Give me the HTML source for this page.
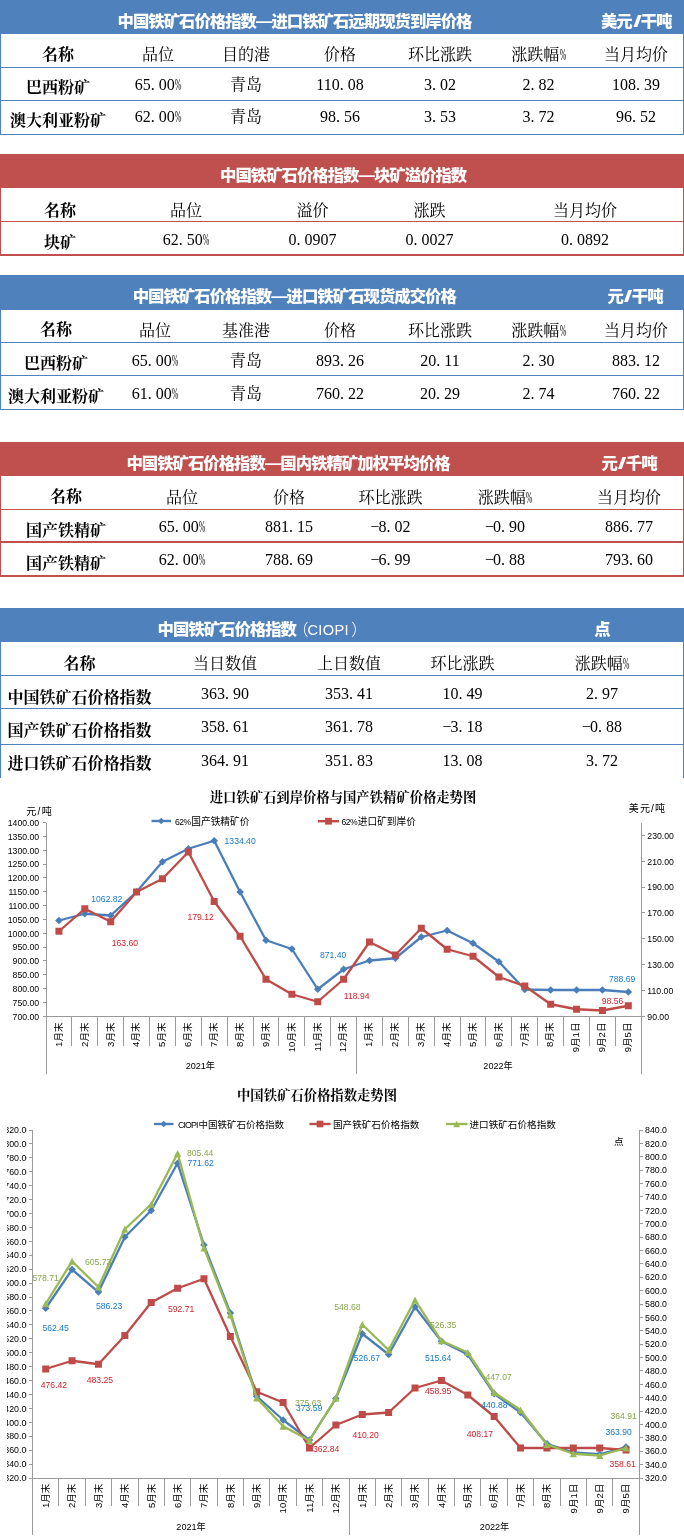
<!DOCTYPE html>
<html lang="zh-CN"><head><meta charset="utf-8"><title>中国铁矿石价格指数</title>
<style>
html,body{margin:0;padding:0;background:#fff;}
body{width:684px;height:1538px;position:relative;overflow:hidden;font-family:"Liberation Serif","Noto Serif CJK SC",serif;color:#000;}
.tb{position:absolute;left:0;width:684px;box-sizing:border-box;}
.hd{position:absolute;left:0;top:0;width:684px;color:#fff;font-family:"Liberation Sans","Noto Sans CJK SC",sans-serif;font-weight:900;font-size:16.4px;letter-spacing:-1px;line-height:20px;}
.hd .t{position:absolute;white-space:nowrap;transform:translateY(-50%);}
.hd .u{position:absolute;white-space:nowrap;transform:translate(-50%,-50%);}
.hd .u i{font-style:normal;display:inline-block;transform:scaleX(1.9);margin:0 2.7px 0 2.7px;}
.lt{font-weight:normal;font-family:"Liberation Sans","Noto Sans CJK SC",sans-serif;font-size:14.6px;letter-spacing:.3px;margin-left:-3.5px;}
.lt .fw{font-family:"Liberation Sans","Noto Sans CJK SC",sans-serif;font-size:16px;letter-spacing:-1px;font-weight:300;}
.ln{position:absolute;left:0;width:684px;height:1px;}
.vl{position:absolute;width:1px;}
.c{position:absolute;white-space:nowrap;transform:translate(-50%,-50%);font-size:16px;line-height:16px;}
.b{font-weight:bold;font-family:"Liberation Serif","Noto Serif CJK SC",serif;}
.p{letter-spacing:4px;}
.pc{display:inline-block;width:6.5px;transform:scale(.5,1.05);transform-origin:0 60%;}
.mn{display:inline-block;width:8px;}
svg{position:absolute;left:0;}
svg text{font-family:"Liberation Sans","Noto Sans CJK SC",sans-serif;}
</style></head><body>

<div class="tb" style="top:0px;height:135px;">
<div class="hd" style="height:34px;background:#4F81BD;"><span class="t" style="left:117.5px;top:20.5px">中国铁矿石价格指数—进口铁矿石远期现货到岸价格</span><span class="u" style="left:636.2px;top:20.5px">美元<i>/</i>干吨</span></div>
<div class="vl" style="left:0;top:34px;height:101px;background:#4F81BD"></div>
<div class="vl" style="left:683px;top:34px;height:101px;background:#4F81BD"></div>
<div class="ln" style="top:67px;height:1px;background:#4F81BD"></div>
<div class="ln" style="top:100px;height:1px;background:#4F81BD"></div>
<div class="ln" style="top:134px;height:1px;background:#4F81BD"></div>
<div class="c b" style="left:58px;top:54.8px">名称</div>
<div class="c" style="left:158px;top:54.5px">品位</div>
<div class="c" style="left:246px;top:54.5px">目的港</div>
<div class="c" style="left:340px;top:54.5px">价格</div>
<div class="c" style="left:440px;top:54.5px">环比涨跌</div>
<div class="c" style="left:538.5px;top:54.5px">涨跌幅<span class="pc">%</span></div>
<div class="c" style="left:636px;top:54.5px">当月均价</div>
<div class="c b" style="left:58px;top:88.0px">巴西粉矿</div>
<div class="c" style="left:158px;top:85.2px">65<span class="p">.</span>00<span class="pc">%</span></div>
<div class="c" style="left:246px;top:85.2px">青岛</div>
<div class="c" style="left:340px;top:85.2px">110<span class="p">.</span>08</div>
<div class="c" style="left:440px;top:85.2px">3<span class="p">.</span>02</div>
<div class="c" style="left:538.5px;top:85.2px">2<span class="p">.</span>82</div>
<div class="c" style="left:636px;top:85.2px">108<span class="p">.</span>39</div>
<div class="c b" style="left:58px;top:121.2px">澳大利亚粉矿</div>
<div class="c" style="left:158px;top:117.3px">62<span class="p">.</span>00<span class="pc">%</span></div>
<div class="c" style="left:246px;top:117.3px">青岛</div>
<div class="c" style="left:340px;top:117.3px">98<span class="p">.</span>56</div>
<div class="c" style="left:440px;top:117.3px">3<span class="p">.</span>53</div>
<div class="c" style="left:538.5px;top:117.3px">3<span class="p">.</span>72</div>
<div class="c" style="left:636px;top:117.3px">96<span class="p">.</span>52</div>
</div>
<div class="tb" style="top:154px;height:102px;">
<div class="hd" style="height:34px;background:#C0504D;"><span class="t" style="left:220px;top:20.900000000000006px">中国铁矿石价格指数—块矿溢价指数</span><span class="u" style="left:636px;top:20.900000000000006px"></span></div>
<div class="vl" style="left:0;top:34px;height:68px;background:#C0504D"></div>
<div class="vl" style="left:683px;top:34px;height:68px;background:#C0504D"></div>
<div class="ln" style="top:67px;height:1px;background:#C0504D"></div>
<div class="ln" style="top:100px;height:2px;background:#C0504D"></div>
<div class="c b" style="left:60px;top:56.8px">名称</div>
<div class="c" style="left:186px;top:56.7px">品位</div>
<div class="c" style="left:312.5px;top:56.7px">溢价</div>
<div class="c" style="left:429.5px;top:56.7px">涨跌</div>
<div class="c" style="left:585px;top:56.7px">当月均价</div>
<div class="c b" style="left:60px;top:88.8px">块矿</div>
<div class="c" style="left:186px;top:85.9px">62<span class="p">.</span>50<span class="pc">%</span></div>
<div class="c" style="left:312.5px;top:85.9px">0<span class="p">.</span>0907</div>
<div class="c" style="left:429.5px;top:85.9px">0<span class="p">.</span>0027</div>
<div class="c" style="left:585px;top:85.9px">0<span class="p">.</span>0892</div>
</div>
<div class="tb" style="top:274.5px;height:135.5px;">
<div class="hd" style="height:35.5px;background:#4F81BD;"><span class="t" style="left:132.7px;top:21.399999999999977px">中国铁矿石价格指数—进口铁矿石现货成交价格</span><span class="u" style="left:635px;top:21.399999999999977px">元<i>/</i>干吨</span></div>
<div class="vl" style="left:0;top:35.5px;height:100.0px;background:#4F81BD"></div>
<div class="vl" style="left:683px;top:35.5px;height:100.0px;background:#4F81BD"></div>
<div class="ln" style="top:67.5px;height:1px;background:#4F81BD"></div>
<div class="ln" style="top:100.0px;height:1px;background:#4F81BD"></div>
<div class="ln" style="top:134.5px;height:1px;background:#4F81BD"></div>
<div class="c b" style="left:56px;top:55.5px">名称</div>
<div class="c" style="left:155px;top:56.2px">品位</div>
<div class="c" style="left:246px;top:56.2px">基准港</div>
<div class="c" style="left:340px;top:56.2px">价格</div>
<div class="c" style="left:440px;top:56.2px">环比涨跌</div>
<div class="c" style="left:538.5px;top:56.2px">涨跌幅<span class="pc">%</span></div>
<div class="c" style="left:636px;top:56.2px">当月均价</div>
<div class="c b" style="left:56px;top:89.4px">巴西粉矿</div>
<div class="c" style="left:155px;top:86.5px">65<span class="p">.</span>00<span class="pc">%</span></div>
<div class="c" style="left:246px;top:86.5px">青岛</div>
<div class="c" style="left:340px;top:86.5px">893<span class="p">.</span>26</div>
<div class="c" style="left:440px;top:86.5px">20<span class="p">.</span>11</div>
<div class="c" style="left:538.5px;top:86.5px">2<span class="p">.</span>30</div>
<div class="c" style="left:636px;top:86.5px">883<span class="p">.</span>12</div>
<div class="c b" style="left:56px;top:122.3px">澳大利亚粉矿</div>
<div class="c" style="left:155px;top:119.2px">61<span class="p">.</span>00<span class="pc">%</span></div>
<div class="c" style="left:246px;top:119.2px">青岛</div>
<div class="c" style="left:340px;top:119.2px">760<span class="p">.</span>22</div>
<div class="c" style="left:440px;top:119.2px">20<span class="p">.</span>29</div>
<div class="c" style="left:538.5px;top:119.2px">2<span class="p">.</span>74</div>
<div class="c" style="left:636px;top:119.2px">760<span class="p">.</span>22</div>
</div>
<div class="tb" style="top:442.4px;height:134.6px;">
<div class="hd" style="height:34px;background:#C0504D;"><span class="t" style="left:126.4px;top:21.100000000000023px">中国铁矿石价格指数—国内铁精矿加权平均价格</span><span class="u" style="left:629px;top:21.100000000000023px">元<i>/</i>千吨</span></div>
<div class="vl" style="left:0;top:34px;height:100.6px;background:#C0504D"></div>
<div class="vl" style="left:683px;top:34px;height:100.6px;background:#C0504D"></div>
<div class="ln" style="top:66.60000000000002px;height:1px;background:#C0504D"></div>
<div class="ln" style="top:98.60000000000002px;height:2px;background:#C0504D"></div>
<div class="ln" style="top:132.60000000000002px;height:2px;background:#C0504D"></div>
<div class="c b" style="left:66px;top:54.8px">名称</div>
<div class="c" style="left:182px;top:55.3px">品位</div>
<div class="c" style="left:289px;top:55.3px">价格</div>
<div class="c" style="left:390.5px;top:55.3px">环比涨跌</div>
<div class="c" style="left:505px;top:55.3px">涨跌幅<span class="pc">%</span></div>
<div class="c" style="left:629px;top:55.3px">当月均价</div>
<div class="c b" style="left:66px;top:88.7px">国产铁精矿</div>
<div class="c" style="left:182px;top:84.7px">65<span class="p">.</span>00<span class="pc">%</span></div>
<div class="c" style="left:289px;top:84.7px">881<span class="p">.</span>15</div>
<div class="c" style="left:390.5px;top:84.7px"><span class="mn">−</span>8<span class="p">.</span>02</div>
<div class="c" style="left:505px;top:84.7px"><span class="mn">−</span>0<span class="p">.</span>90</div>
<div class="c" style="left:629px;top:84.7px">886<span class="p">.</span>77</div>
<div class="c b" style="left:66px;top:121.6px">国产铁精矿</div>
<div class="c" style="left:182px;top:117.6px">62<span class="p">.</span>00<span class="pc">%</span></div>
<div class="c" style="left:289px;top:117.6px">788<span class="p">.</span>69</div>
<div class="c" style="left:390.5px;top:117.6px"><span class="mn">−</span>6<span class="p">.</span>99</div>
<div class="c" style="left:505px;top:117.6px"><span class="mn">−</span>0<span class="p">.</span>88</div>
<div class="c" style="left:629px;top:117.6px">793<span class="p">.</span>60</div>
</div>
<div class="tb" style="top:608.2px;height:172px;">
<div class="hd" style="height:34.2px;background:#4F81BD;"><span class="t" style="left:157.5px;top:20.59999999999991px">中国铁矿石价格指数<span class="lt"><span class="fw">（</span>CIOPI<span class="fw" style="margin-left:2.5px">）</span></span></span><span class="u" style="left:602px;top:20.59999999999991px">点</span></div>
<div class="vl" style="left:0;top:34.2px;height:137.8px;background:#4F81BD"></div>
<div class="vl" style="left:683px;top:34.2px;height:137.8px;background:#4F81BD"></div>
<div class="ln" style="top:66.79999999999995px;height:1px;background:#4F81BD"></div>
<div class="ln" style="top:100.29999999999995px;height:1px;background:#4F81BD"></div>
<div class="ln" style="top:135.79999999999995px;height:1px;background:#4F81BD"></div>
<div class="c b" style="left:79.5px;top:56.1px">名称</div>
<div class="c" style="left:225px;top:55.5px">当日数值</div>
<div class="c" style="left:349px;top:55.5px">上日数值</div>
<div class="c" style="left:462.5px;top:55.5px">环比涨跌</div>
<div class="c" style="left:602px;top:55.5px">涨跌幅<span class="pc">%</span></div>
<div class="c b" style="left:79.5px;top:89.4px">中国铁矿石价格指数</div>
<div class="c" style="left:225px;top:85.6px">363<span class="p">.</span>90</div>
<div class="c" style="left:349px;top:85.6px">353<span class="p">.</span>41</div>
<div class="c" style="left:462.5px;top:85.6px">10<span class="p">.</span>49</div>
<div class="c" style="left:602px;top:85.6px">2<span class="p">.</span>97</div>
<div class="c b" style="left:79.5px;top:122.8px">国产铁矿石价格指数</div>
<div class="c" style="left:225px;top:119.3px">358<span class="p">.</span>61</div>
<div class="c" style="left:349px;top:119.3px">361<span class="p">.</span>78</div>
<div class="c" style="left:462.5px;top:119.3px"><span class="mn">−</span>3<span class="p">.</span>18</div>
<div class="c" style="left:602px;top:119.3px"><span class="mn">−</span>0<span class="p">.</span>88</div>
<div class="c b" style="left:79.5px;top:156.1px">进口铁矿石价格指数</div>
<div class="c" style="left:225px;top:153.3px">364<span class="p">.</span>91</div>
<div class="c" style="left:349px;top:153.3px">351<span class="p">.</span>83</div>
<div class="c" style="left:462.5px;top:153.3px">13<span class="p">.</span>08</div>
<div class="c" style="left:602px;top:153.3px">3<span class="p">.</span>72</div>
</div>
<svg style="top:778px" width="684" height="304" viewBox="0 778 684 304"><rect x="0" y="778" width="684" height="304" fill="#fff"/>
<text x="343" y="801.5" font-size="13.33" font-weight="bold" text-anchor="middle" style="font-family:'Liberation Serif','Noto Serif CJK SC',serif">进口铁矿石到岸价格与国产铁精矿价格走势图</text>
<line x1="151.5" y1="821" x2="171" y2="821" stroke="#4A7EBB" stroke-width="2.4"/><path d="M161.20 817.80L164.40 821.00L161.20 824.20L158.00 821.00Z" fill="#4A7EBB"/>
<text x="175" y="824.7" font-size="9.7" fill="#000" text-anchor="start" ><tspan font-size="8.6" letter-spacing="-0.5">62%</tspan><tspan dx="0.6">国产铁精矿价</tspan></text>
<line x1="318" y1="821.2" x2="339" y2="821.2" stroke="#BE4B48" stroke-width="2.4"/><rect x="325.10" y="817.80" width="6.80" height="6.80" fill="#BE4B48"/>
<text x="341.5" y="824.7" font-size="9.7" fill="#000" text-anchor="start" ><tspan font-size="8.6" letter-spacing="-0.5">62%</tspan><tspan dx="0.6">进口矿到岸价</tspan></text>
<text x="26.3" y="815.2" font-size="10" fill="#000" text-anchor="start" letter-spacing="1.3">元/吨</text>
<text x="628.8" y="811.8" font-size="10" fill="#000" text-anchor="start" letter-spacing="1.1">美元/吨</text>
<g stroke="#9A9A9A" stroke-width="1" fill="none" shape-rendering="crispEdges">
<line x1="46.0" y1="822.5" x2="46.0" y2="1074"/>
<line x1="641.25" y1="822.5" x2="641.25" y2="1074"/>
<line x1="46.0" y1="1016.25" x2="641.25" y2="1016.25"/>
<line x1="42.5" y1="822.50" x2="46.0" y2="822.50"/>
<line x1="42.5" y1="836.34" x2="46.0" y2="836.34"/>
<line x1="42.5" y1="850.18" x2="46.0" y2="850.18"/>
<line x1="42.5" y1="864.02" x2="46.0" y2="864.02"/>
<line x1="42.5" y1="877.86" x2="46.0" y2="877.86"/>
<line x1="42.5" y1="891.70" x2="46.0" y2="891.70"/>
<line x1="42.5" y1="905.54" x2="46.0" y2="905.54"/>
<line x1="42.5" y1="919.38" x2="46.0" y2="919.38"/>
<line x1="42.5" y1="933.21" x2="46.0" y2="933.21"/>
<line x1="42.5" y1="947.05" x2="46.0" y2="947.05"/>
<line x1="42.5" y1="960.89" x2="46.0" y2="960.89"/>
<line x1="42.5" y1="974.73" x2="46.0" y2="974.73"/>
<line x1="42.5" y1="988.57" x2="46.0" y2="988.57"/>
<line x1="42.5" y1="1002.41" x2="46.0" y2="1002.41"/>
<line x1="42.5" y1="1016.25" x2="46.0" y2="1016.25"/>
<line x1="641.25" y1="1016.25" x2="644.75" y2="1016.25"/>
<line x1="641.25" y1="990.42" x2="644.75" y2="990.42"/>
<line x1="641.25" y1="964.58" x2="644.75" y2="964.58"/>
<line x1="641.25" y1="938.75" x2="644.75" y2="938.75"/>
<line x1="641.25" y1="912.92" x2="644.75" y2="912.92"/>
<line x1="641.25" y1="887.08" x2="644.75" y2="887.08"/>
<line x1="641.25" y1="861.25" x2="644.75" y2="861.25"/>
<line x1="641.25" y1="835.42" x2="644.75" y2="835.42"/>
<line x1="71.88" y1="1016.25" x2="71.88" y2="1046"/>
<line x1="97.76" y1="1016.25" x2="97.76" y2="1046"/>
<line x1="123.64" y1="1016.25" x2="123.64" y2="1046"/>
<line x1="149.52" y1="1016.25" x2="149.52" y2="1046"/>
<line x1="175.40" y1="1016.25" x2="175.40" y2="1046"/>
<line x1="201.28" y1="1016.25" x2="201.28" y2="1046"/>
<line x1="227.16" y1="1016.25" x2="227.16" y2="1046"/>
<line x1="253.04" y1="1016.25" x2="253.04" y2="1046"/>
<line x1="278.92" y1="1016.25" x2="278.92" y2="1046"/>
<line x1="304.80" y1="1016.25" x2="304.80" y2="1046"/>
<line x1="330.68" y1="1016.25" x2="330.68" y2="1046"/>
<line x1="356.57" y1="1016.25" x2="356.57" y2="1074"/>
<line x1="382.45" y1="1016.25" x2="382.45" y2="1046"/>
<line x1="408.33" y1="1016.25" x2="408.33" y2="1046"/>
<line x1="434.21" y1="1016.25" x2="434.21" y2="1046"/>
<line x1="460.09" y1="1016.25" x2="460.09" y2="1046"/>
<line x1="485.97" y1="1016.25" x2="485.97" y2="1046"/>
<line x1="511.85" y1="1016.25" x2="511.85" y2="1046"/>
<line x1="537.73" y1="1016.25" x2="537.73" y2="1046"/>
<line x1="563.61" y1="1016.25" x2="563.61" y2="1046"/>
<line x1="589.49" y1="1016.25" x2="589.49" y2="1046"/>
<line x1="615.37" y1="1016.25" x2="615.37" y2="1046"/>
</g>
<text x="39.2" y="825.9" font-size="8.7" fill="#000" text-anchor="end" >1400.00</text>
<text x="39.2" y="839.74" font-size="8.7" fill="#000" text-anchor="end" >1350.00</text>
<text x="39.2" y="853.58" font-size="8.7" fill="#000" text-anchor="end" >1300.00</text>
<text x="39.2" y="867.42" font-size="8.7" fill="#000" text-anchor="end" >1250.00</text>
<text x="39.2" y="881.26" font-size="8.7" fill="#000" text-anchor="end" >1200.00</text>
<text x="39.2" y="895.1" font-size="8.7" fill="#000" text-anchor="end" >1150.00</text>
<text x="39.2" y="908.94" font-size="8.7" fill="#000" text-anchor="end" >1100.00</text>
<text x="39.2" y="922.77" font-size="8.7" fill="#000" text-anchor="end" >1050.00</text>
<text x="39.2" y="936.61" font-size="8.7" fill="#000" text-anchor="end" >1000.00</text>
<text x="39.2" y="950.45" font-size="8.7" fill="#000" text-anchor="end" >950.00</text>
<text x="39.2" y="964.29" font-size="8.7" fill="#000" text-anchor="end" >900.00</text>
<text x="39.2" y="978.13" font-size="8.7" fill="#000" text-anchor="end" >850.00</text>
<text x="39.2" y="991.97" font-size="8.7" fill="#000" text-anchor="end" >800.00</text>
<text x="39.2" y="1005.81" font-size="8.7" fill="#000" text-anchor="end" >750.00</text>
<text x="39.2" y="1019.65" font-size="8.7" fill="#000" text-anchor="end" >700.00</text>
<text x="647.3" y="1019.65" font-size="8.7" fill="#000" text-anchor="start" >90.00</text>
<text x="647.3" y="993.82" font-size="8.7" fill="#000" text-anchor="start" >110.00</text>
<text x="647.3" y="967.98" font-size="8.7" fill="#000" text-anchor="start" >130.00</text>
<text x="647.3" y="942.15" font-size="8.7" fill="#000" text-anchor="start" >150.00</text>
<text x="647.3" y="916.32" font-size="8.7" fill="#000" text-anchor="start" >170.00</text>
<text x="647.3" y="890.48" font-size="8.7" fill="#000" text-anchor="start" >190.00</text>
<text x="647.3" y="864.65" font-size="8.7" fill="#000" text-anchor="start" >210.00</text>
<text x="647.3" y="838.82" font-size="8.7" fill="#000" text-anchor="start" >230.00</text>
<text transform="translate(61.74,1022.6) rotate(-90)" font-size="9.5" text-anchor="end">1月末</text>
<text transform="translate(87.62,1022.6) rotate(-90)" font-size="9.5" text-anchor="end">2月末</text>
<text transform="translate(113.50,1022.6) rotate(-90)" font-size="9.5" text-anchor="end">3月末</text>
<text transform="translate(139.38,1022.6) rotate(-90)" font-size="9.5" text-anchor="end">4月末</text>
<text transform="translate(165.26,1022.6) rotate(-90)" font-size="9.5" text-anchor="end">5月末</text>
<text transform="translate(191.14,1022.6) rotate(-90)" font-size="9.5" text-anchor="end">6月末</text>
<text transform="translate(217.02,1022.6) rotate(-90)" font-size="9.5" text-anchor="end">7月末</text>
<text transform="translate(242.90,1022.6) rotate(-90)" font-size="9.5" text-anchor="end">8月末</text>
<text transform="translate(268.78,1022.6) rotate(-90)" font-size="9.5" text-anchor="end">9月末</text>
<text transform="translate(294.66,1022.6) rotate(-90)" font-size="9.5" text-anchor="end">10月末</text>
<text transform="translate(320.54,1022.6) rotate(-90)" font-size="9.5" text-anchor="end">11月末</text>
<text transform="translate(346.43,1022.6) rotate(-90)" font-size="9.5" text-anchor="end">12月末</text>
<text transform="translate(372.31,1022.6) rotate(-90)" font-size="9.5" text-anchor="end">1月末</text>
<text transform="translate(398.19,1022.6) rotate(-90)" font-size="9.5" text-anchor="end">2月末</text>
<text transform="translate(424.07,1022.6) rotate(-90)" font-size="9.5" text-anchor="end">3月末</text>
<text transform="translate(449.95,1022.6) rotate(-90)" font-size="9.5" text-anchor="end">4月末</text>
<text transform="translate(475.83,1022.6) rotate(-90)" font-size="9.5" text-anchor="end">5月末</text>
<text transform="translate(501.71,1022.6) rotate(-90)" font-size="9.5" text-anchor="end">6月末</text>
<text transform="translate(527.59,1022.6) rotate(-90)" font-size="9.5" text-anchor="end">7月末</text>
<text transform="translate(553.47,1022.6) rotate(-90)" font-size="9.5" text-anchor="end">8月末</text>
<text transform="translate(579.35,1022.6) rotate(-90)" font-size="9.5" text-anchor="end">9月1日</text>
<text transform="translate(605.23,1022.6) rotate(-90)" font-size="9.5" text-anchor="end">9月2日</text>
<text transform="translate(631.11,1022.6) rotate(-90)" font-size="9.5" text-anchor="end">9月5日</text>
<text x="200.3" y="1068.6" font-size="9.1" fill="#000" text-anchor="middle" >2021年</text>
<text x="498" y="1068.6" font-size="9.1" fill="#000" text-anchor="middle" >2022年</text>
<polyline points="58.94,920.50 84.82,913.75 110.70,915.50 136.58,891.75 162.46,861.75 188.34,848.75 214.22,840.75 240.10,892.00 265.98,940.25 291.86,949.00 317.74,989.25 343.62,969.25 369.51,960.50 395.39,958.25 421.27,937.00 447.15,930.50 473.03,943.25 498.91,961.75 524.79,989.50 550.67,990.00 576.55,990.00 602.43,990.00 628.31,992.00" fill="none" stroke="#4A7EBB" stroke-width="2.3" stroke-linejoin="round" stroke-linecap="round"/><path d="M58.94 916.70L62.74 920.50L58.94 924.30L55.14 920.50Z" fill="#4A7EBB"/><path d="M84.82 909.95L88.62 913.75L84.82 917.55L81.02 913.75Z" fill="#4A7EBB"/><path d="M110.70 911.70L114.50 915.50L110.70 919.30L106.90 915.50Z" fill="#4A7EBB"/><path d="M136.58 887.95L140.38 891.75L136.58 895.55L132.78 891.75Z" fill="#4A7EBB"/><path d="M162.46 857.95L166.26 861.75L162.46 865.55L158.66 861.75Z" fill="#4A7EBB"/><path d="M188.34 844.95L192.14 848.75L188.34 852.55L184.54 848.75Z" fill="#4A7EBB"/><path d="M214.22 836.95L218.02 840.75L214.22 844.55L210.42 840.75Z" fill="#4A7EBB"/><path d="M240.10 888.20L243.90 892.00L240.10 895.80L236.30 892.00Z" fill="#4A7EBB"/><path d="M265.98 936.45L269.78 940.25L265.98 944.05L262.18 940.25Z" fill="#4A7EBB"/><path d="M291.86 945.20L295.66 949.00L291.86 952.80L288.06 949.00Z" fill="#4A7EBB"/><path d="M317.74 985.45L321.54 989.25L317.74 993.05L313.94 989.25Z" fill="#4A7EBB"/><path d="M343.62 965.45L347.43 969.25L343.62 973.05L339.82 969.25Z" fill="#4A7EBB"/><path d="M369.51 956.70L373.31 960.50L369.51 964.30L365.71 960.50Z" fill="#4A7EBB"/><path d="M395.39 954.45L399.19 958.25L395.39 962.05L391.59 958.25Z" fill="#4A7EBB"/><path d="M421.27 933.20L425.07 937.00L421.27 940.80L417.47 937.00Z" fill="#4A7EBB"/><path d="M447.15 926.70L450.95 930.50L447.15 934.30L443.35 930.50Z" fill="#4A7EBB"/><path d="M473.03 939.45L476.83 943.25L473.03 947.05L469.23 943.25Z" fill="#4A7EBB"/><path d="M498.91 957.95L502.71 961.75L498.91 965.55L495.11 961.75Z" fill="#4A7EBB"/><path d="M524.79 985.70L528.59 989.50L524.79 993.30L520.99 989.50Z" fill="#4A7EBB"/><path d="M550.67 986.20L554.47 990.00L550.67 993.80L546.87 990.00Z" fill="#4A7EBB"/><path d="M576.55 986.20L580.35 990.00L576.55 993.80L572.75 990.00Z" fill="#4A7EBB"/><path d="M602.43 986.20L606.23 990.00L602.43 993.80L598.63 990.00Z" fill="#4A7EBB"/><path d="M628.31 988.20L632.11 992.00L628.31 995.80L624.51 992.00Z" fill="#4A7EBB"/>
<polyline points="58.94,931.25 84.82,908.75 110.70,921.75 136.58,892.00 162.46,878.75 188.34,852.00 214.22,901.50 240.10,936.25 265.98,979.25 291.86,994.25 317.74,1001.75 343.62,979.25 369.51,942.00 395.39,955.00 421.27,928.25 447.15,949.25 473.03,956.25 498.91,977.00 524.79,986.00 550.67,1004.25 576.55,1009.25 602.43,1010.50 628.31,1005.75" fill="none" stroke="#BE4B48" stroke-width="2.3" stroke-linejoin="round" stroke-linecap="round"/><rect x="55.44" y="927.75" width="7.00" height="7.00" fill="#BE4B48"/><rect x="81.32" y="905.25" width="7.00" height="7.00" fill="#BE4B48"/><rect x="107.20" y="918.25" width="7.00" height="7.00" fill="#BE4B48"/><rect x="133.08" y="888.50" width="7.00" height="7.00" fill="#BE4B48"/><rect x="158.96" y="875.25" width="7.00" height="7.00" fill="#BE4B48"/><rect x="184.84" y="848.50" width="7.00" height="7.00" fill="#BE4B48"/><rect x="210.72" y="898.00" width="7.00" height="7.00" fill="#BE4B48"/><rect x="236.60" y="932.75" width="7.00" height="7.00" fill="#BE4B48"/><rect x="262.48" y="975.75" width="7.00" height="7.00" fill="#BE4B48"/><rect x="288.36" y="990.75" width="7.00" height="7.00" fill="#BE4B48"/><rect x="314.24" y="998.25" width="7.00" height="7.00" fill="#BE4B48"/><rect x="340.12" y="975.75" width="7.00" height="7.00" fill="#BE4B48"/><rect x="366.01" y="938.50" width="7.00" height="7.00" fill="#BE4B48"/><rect x="391.89" y="951.50" width="7.00" height="7.00" fill="#BE4B48"/><rect x="417.77" y="924.75" width="7.00" height="7.00" fill="#BE4B48"/><rect x="443.65" y="945.75" width="7.00" height="7.00" fill="#BE4B48"/><rect x="469.53" y="952.75" width="7.00" height="7.00" fill="#BE4B48"/><rect x="495.41" y="973.50" width="7.00" height="7.00" fill="#BE4B48"/><rect x="521.29" y="982.50" width="7.00" height="7.00" fill="#BE4B48"/><rect x="547.17" y="1000.75" width="7.00" height="7.00" fill="#BE4B48"/><rect x="573.05" y="1005.75" width="7.00" height="7.00" fill="#BE4B48"/><rect x="598.93" y="1007.00" width="7.00" height="7.00" fill="#BE4B48"/><rect x="624.81" y="1002.25" width="7.00" height="7.00" fill="#BE4B48"/>
<text x="91.3" y="902.3" font-size="8.6" fill="#1878CC" text-anchor="start" >1062.82</text>
<text x="224.6" y="843.6" font-size="8.6" fill="#1878CC" text-anchor="start" >1334.40</text>
<text x="320" y="958" font-size="8.6" fill="#1878CC" text-anchor="start" >871.40</text>
<text x="609" y="981.8" font-size="8.6" fill="#1878CC" text-anchor="start" >788.69</text>
<text x="111.8" y="945.6" font-size="8.6" fill="#D2222E" text-anchor="start" >163.60</text>
<text x="187.5" y="920" font-size="8.6" fill="#D2222E" text-anchor="start" >179.12</text>
<text x="343.8" y="998.8" font-size="8.6" fill="#D2222E" text-anchor="start" >118.94</text>
<text x="601.8" y="1003.6" font-size="8.6" fill="#D2222E" text-anchor="start" >98.56</text>
</svg>
<svg style="top:1082px" width="684" height="456" viewBox="0 1082 684 456"><rect x="0" y="1082" width="684" height="456" fill="#fff"/>
<defs><clipPath id="cl"><rect x="7" y="1120" width="19.6" height="370"/></clipPath><clipPath id="cr"><rect x="640" y="1120" width="27" height="370"/></clipPath></defs>
<text x="317" y="1099.5" font-size="13.33" font-weight="bold" text-anchor="middle" style="font-family:'Liberation Serif','Noto Serif CJK SC',serif">中国铁矿石价格指数走势图</text>
<line x1="154" y1="1124" x2="173.5" y2="1124" stroke="#4A7EBB" stroke-width="2.4"/><path d="M163.70 1120.80L166.90 1124.00L163.70 1127.20L160.50 1124.00Z" fill="#4A7EBB"/>
<text x="178" y="1127.5" font-size="9.5" fill="#000" text-anchor="start" ><tspan font-size="8.8" letter-spacing="-0.9">CIOPI</tspan><tspan dx="1">中国铁矿石价格指数</tspan></text>
<line x1="309.5" y1="1124" x2="330.5" y2="1124" stroke="#BE4B48" stroke-width="2.4"/><rect x="316.70" y="1120.70" width="6.60" height="6.60" fill="#BE4B48"/>
<text x="333" y="1127.5" font-size="9.6" fill="#000" text-anchor="start" >国产铁矿石价格指数</text>
<line x1="446" y1="1124" x2="467.5" y2="1124" stroke="#98B954" stroke-width="2.4"/><path d="M456.70 1120.70L460.00 1127.30L453.40 1127.30Z" fill="#98B954"/>
<text x="469.5" y="1127.5" font-size="9.6" fill="#000" text-anchor="start" >进口铁矿石价格指数</text>
<text x="614" y="1144.5" font-size="9.6" fill="#000" text-anchor="start" >点</text>
<g stroke="#9A9A9A" stroke-width="1" fill="none" shape-rendering="crispEdges">
<line x1="32.5" y1="1130.0" x2="32.5" y2="1535"/>
<line x1="639.25" y1="1130.0" x2="639.25" y2="1535"/>
<line x1="32.5" y1="1478.0" x2="639.25" y2="1478.0"/>
<line x1="29.0" y1="1130.00" x2="32.5" y2="1130.00"/>
<line x1="29.0" y1="1143.92" x2="32.5" y2="1143.92"/>
<line x1="29.0" y1="1157.84" x2="32.5" y2="1157.84"/>
<line x1="29.0" y1="1171.76" x2="32.5" y2="1171.76"/>
<line x1="29.0" y1="1185.68" x2="32.5" y2="1185.68"/>
<line x1="29.0" y1="1199.60" x2="32.5" y2="1199.60"/>
<line x1="29.0" y1="1213.52" x2="32.5" y2="1213.52"/>
<line x1="29.0" y1="1227.44" x2="32.5" y2="1227.44"/>
<line x1="29.0" y1="1241.36" x2="32.5" y2="1241.36"/>
<line x1="29.0" y1="1255.28" x2="32.5" y2="1255.28"/>
<line x1="29.0" y1="1269.20" x2="32.5" y2="1269.20"/>
<line x1="29.0" y1="1283.12" x2="32.5" y2="1283.12"/>
<line x1="29.0" y1="1297.04" x2="32.5" y2="1297.04"/>
<line x1="29.0" y1="1310.96" x2="32.5" y2="1310.96"/>
<line x1="29.0" y1="1324.88" x2="32.5" y2="1324.88"/>
<line x1="29.0" y1="1338.80" x2="32.5" y2="1338.80"/>
<line x1="29.0" y1="1352.72" x2="32.5" y2="1352.72"/>
<line x1="29.0" y1="1366.64" x2="32.5" y2="1366.64"/>
<line x1="29.0" y1="1380.56" x2="32.5" y2="1380.56"/>
<line x1="29.0" y1="1394.48" x2="32.5" y2="1394.48"/>
<line x1="29.0" y1="1408.40" x2="32.5" y2="1408.40"/>
<line x1="29.0" y1="1422.32" x2="32.5" y2="1422.32"/>
<line x1="29.0" y1="1436.24" x2="32.5" y2="1436.24"/>
<line x1="29.0" y1="1450.16" x2="32.5" y2="1450.16"/>
<line x1="29.0" y1="1464.08" x2="32.5" y2="1464.08"/>
<line x1="29.0" y1="1478.00" x2="32.5" y2="1478.00"/>
<line x1="639.25" y1="1130.00" x2="642.75" y2="1130.00"/>
<line x1="639.25" y1="1143.38" x2="642.75" y2="1143.38"/>
<line x1="639.25" y1="1156.77" x2="642.75" y2="1156.77"/>
<line x1="639.25" y1="1170.15" x2="642.75" y2="1170.15"/>
<line x1="639.25" y1="1183.54" x2="642.75" y2="1183.54"/>
<line x1="639.25" y1="1196.92" x2="642.75" y2="1196.92"/>
<line x1="639.25" y1="1210.31" x2="642.75" y2="1210.31"/>
<line x1="639.25" y1="1223.69" x2="642.75" y2="1223.69"/>
<line x1="639.25" y1="1237.08" x2="642.75" y2="1237.08"/>
<line x1="639.25" y1="1250.46" x2="642.75" y2="1250.46"/>
<line x1="639.25" y1="1263.85" x2="642.75" y2="1263.85"/>
<line x1="639.25" y1="1277.23" x2="642.75" y2="1277.23"/>
<line x1="639.25" y1="1290.62" x2="642.75" y2="1290.62"/>
<line x1="639.25" y1="1304.00" x2="642.75" y2="1304.00"/>
<line x1="639.25" y1="1317.38" x2="642.75" y2="1317.38"/>
<line x1="639.25" y1="1330.77" x2="642.75" y2="1330.77"/>
<line x1="639.25" y1="1344.15" x2="642.75" y2="1344.15"/>
<line x1="639.25" y1="1357.54" x2="642.75" y2="1357.54"/>
<line x1="639.25" y1="1370.92" x2="642.75" y2="1370.92"/>
<line x1="639.25" y1="1384.31" x2="642.75" y2="1384.31"/>
<line x1="639.25" y1="1397.69" x2="642.75" y2="1397.69"/>
<line x1="639.25" y1="1411.08" x2="642.75" y2="1411.08"/>
<line x1="639.25" y1="1424.46" x2="642.75" y2="1424.46"/>
<line x1="639.25" y1="1437.85" x2="642.75" y2="1437.85"/>
<line x1="639.25" y1="1451.23" x2="642.75" y2="1451.23"/>
<line x1="639.25" y1="1464.62" x2="642.75" y2="1464.62"/>
<line x1="639.25" y1="1478.00" x2="642.75" y2="1478.00"/>
<line x1="58.88" y1="1478.0" x2="58.88" y2="1506"/>
<line x1="85.26" y1="1478.0" x2="85.26" y2="1506"/>
<line x1="111.64" y1="1478.0" x2="111.64" y2="1506"/>
<line x1="138.02" y1="1478.0" x2="138.02" y2="1506"/>
<line x1="164.40" y1="1478.0" x2="164.40" y2="1506"/>
<line x1="190.78" y1="1478.0" x2="190.78" y2="1506"/>
<line x1="217.16" y1="1478.0" x2="217.16" y2="1506"/>
<line x1="243.54" y1="1478.0" x2="243.54" y2="1506"/>
<line x1="269.92" y1="1478.0" x2="269.92" y2="1506"/>
<line x1="296.30" y1="1478.0" x2="296.30" y2="1506"/>
<line x1="322.68" y1="1478.0" x2="322.68" y2="1506"/>
<line x1="349.07" y1="1478.0" x2="349.07" y2="1535"/>
<line x1="375.45" y1="1478.0" x2="375.45" y2="1506"/>
<line x1="401.83" y1="1478.0" x2="401.83" y2="1506"/>
<line x1="428.21" y1="1478.0" x2="428.21" y2="1506"/>
<line x1="454.59" y1="1478.0" x2="454.59" y2="1506"/>
<line x1="480.97" y1="1478.0" x2="480.97" y2="1506"/>
<line x1="507.35" y1="1478.0" x2="507.35" y2="1506"/>
<line x1="533.73" y1="1478.0" x2="533.73" y2="1506"/>
<line x1="560.11" y1="1478.0" x2="560.11" y2="1506"/>
<line x1="586.49" y1="1478.0" x2="586.49" y2="1506"/>
<line x1="612.87" y1="1478.0" x2="612.87" y2="1506"/>
</g>
<g clip-path="url(#cl)">
<text x="31.2" y="1133.2" font-size="8.8" fill="#000" text-anchor="end" >820.00</text>
<text x="31.2" y="1147.12" font-size="8.8" fill="#000" text-anchor="end" >800.00</text>
<text x="31.2" y="1161.04" font-size="8.8" fill="#000" text-anchor="end" >780.00</text>
<text x="31.2" y="1174.96" font-size="8.8" fill="#000" text-anchor="end" >760.00</text>
<text x="31.2" y="1188.88" font-size="8.8" fill="#000" text-anchor="end" >740.00</text>
<text x="31.2" y="1202.8" font-size="8.8" fill="#000" text-anchor="end" >720.00</text>
<text x="31.2" y="1216.72" font-size="8.8" fill="#000" text-anchor="end" >700.00</text>
<text x="31.2" y="1230.64" font-size="8.8" fill="#000" text-anchor="end" >680.00</text>
<text x="31.2" y="1244.56" font-size="8.8" fill="#000" text-anchor="end" >660.00</text>
<text x="31.2" y="1258.48" font-size="8.8" fill="#000" text-anchor="end" >640.00</text>
<text x="31.2" y="1272.4" font-size="8.8" fill="#000" text-anchor="end" >620.00</text>
<text x="31.2" y="1286.32" font-size="8.8" fill="#000" text-anchor="end" >600.00</text>
<text x="31.2" y="1300.24" font-size="8.8" fill="#000" text-anchor="end" >580.00</text>
<text x="31.2" y="1314.16" font-size="8.8" fill="#000" text-anchor="end" >560.00</text>
<text x="31.2" y="1328.08" font-size="8.8" fill="#000" text-anchor="end" >540.00</text>
<text x="31.2" y="1342.0" font-size="8.8" fill="#000" text-anchor="end" >520.00</text>
<text x="31.2" y="1355.92" font-size="8.8" fill="#000" text-anchor="end" >500.00</text>
<text x="31.2" y="1369.84" font-size="8.8" fill="#000" text-anchor="end" >480.00</text>
<text x="31.2" y="1383.76" font-size="8.8" fill="#000" text-anchor="end" >460.00</text>
<text x="31.2" y="1397.68" font-size="8.8" fill="#000" text-anchor="end" >440.00</text>
<text x="31.2" y="1411.6" font-size="8.8" fill="#000" text-anchor="end" >420.00</text>
<text x="31.2" y="1425.52" font-size="8.8" fill="#000" text-anchor="end" >400.00</text>
<text x="31.2" y="1439.44" font-size="8.8" fill="#000" text-anchor="end" >380.00</text>
<text x="31.2" y="1453.36" font-size="8.8" fill="#000" text-anchor="end" >360.00</text>
<text x="31.2" y="1467.28" font-size="8.8" fill="#000" text-anchor="end" >340.00</text>
<text x="31.2" y="1481.2" font-size="8.8" fill="#000" text-anchor="end" >320.00</text>
</g><g clip-path="url(#cr)">
<text x="645" y="1133.2" font-size="8.8" fill="#000" text-anchor="start" >840.00</text>
<text x="645" y="1146.58" font-size="8.8" fill="#000" text-anchor="start" >820.00</text>
<text x="645" y="1159.97" font-size="8.8" fill="#000" text-anchor="start" >800.00</text>
<text x="645" y="1173.35" font-size="8.8" fill="#000" text-anchor="start" >780.00</text>
<text x="645" y="1186.74" font-size="8.8" fill="#000" text-anchor="start" >760.00</text>
<text x="645" y="1200.12" font-size="8.8" fill="#000" text-anchor="start" >740.00</text>
<text x="645" y="1213.51" font-size="8.8" fill="#000" text-anchor="start" >720.00</text>
<text x="645" y="1226.89" font-size="8.8" fill="#000" text-anchor="start" >700.00</text>
<text x="645" y="1240.28" font-size="8.8" fill="#000" text-anchor="start" >680.00</text>
<text x="645" y="1253.66" font-size="8.8" fill="#000" text-anchor="start" >660.00</text>
<text x="645" y="1267.05" font-size="8.8" fill="#000" text-anchor="start" >640.00</text>
<text x="645" y="1280.43" font-size="8.8" fill="#000" text-anchor="start" >620.00</text>
<text x="645" y="1293.82" font-size="8.8" fill="#000" text-anchor="start" >600.00</text>
<text x="645" y="1307.2" font-size="8.8" fill="#000" text-anchor="start" >580.00</text>
<text x="645" y="1320.58" font-size="8.8" fill="#000" text-anchor="start" >560.00</text>
<text x="645" y="1333.97" font-size="8.8" fill="#000" text-anchor="start" >540.00</text>
<text x="645" y="1347.35" font-size="8.8" fill="#000" text-anchor="start" >520.00</text>
<text x="645" y="1360.74" font-size="8.8" fill="#000" text-anchor="start" >500.00</text>
<text x="645" y="1374.12" font-size="8.8" fill="#000" text-anchor="start" >480.00</text>
<text x="645" y="1387.51" font-size="8.8" fill="#000" text-anchor="start" >460.00</text>
<text x="645" y="1400.89" font-size="8.8" fill="#000" text-anchor="start" >440.00</text>
<text x="645" y="1414.28" font-size="8.8" fill="#000" text-anchor="start" >420.00</text>
<text x="645" y="1427.66" font-size="8.8" fill="#000" text-anchor="start" >400.00</text>
<text x="645" y="1441.05" font-size="8.8" fill="#000" text-anchor="start" >380.00</text>
<text x="645" y="1454.43" font-size="8.8" fill="#000" text-anchor="start" >360.00</text>
<text x="645" y="1467.82" font-size="8.8" fill="#000" text-anchor="start" >340.00</text>
<text x="645" y="1481.2" font-size="8.8" fill="#000" text-anchor="start" >320.00</text>
</g>
<text transform="translate(48.99,1483.8) rotate(-90)" font-size="9.5" text-anchor="end">1月末</text>
<text transform="translate(75.37,1483.8) rotate(-90)" font-size="9.5" text-anchor="end">2月末</text>
<text transform="translate(101.75,1483.8) rotate(-90)" font-size="9.5" text-anchor="end">3月末</text>
<text transform="translate(128.13,1483.8) rotate(-90)" font-size="9.5" text-anchor="end">4月末</text>
<text transform="translate(154.51,1483.8) rotate(-90)" font-size="9.5" text-anchor="end">5月末</text>
<text transform="translate(180.89,1483.8) rotate(-90)" font-size="9.5" text-anchor="end">6月末</text>
<text transform="translate(207.27,1483.8) rotate(-90)" font-size="9.5" text-anchor="end">7月末</text>
<text transform="translate(233.65,1483.8) rotate(-90)" font-size="9.5" text-anchor="end">8月末</text>
<text transform="translate(260.03,1483.8) rotate(-90)" font-size="9.5" text-anchor="end">9月末</text>
<text transform="translate(286.41,1483.8) rotate(-90)" font-size="9.5" text-anchor="end">10月末</text>
<text transform="translate(312.79,1483.8) rotate(-90)" font-size="9.5" text-anchor="end">11月末</text>
<text transform="translate(339.18,1483.8) rotate(-90)" font-size="9.5" text-anchor="end">12月末</text>
<text transform="translate(365.56,1483.8) rotate(-90)" font-size="9.5" text-anchor="end">1月末</text>
<text transform="translate(391.94,1483.8) rotate(-90)" font-size="9.5" text-anchor="end">2月末</text>
<text transform="translate(418.32,1483.8) rotate(-90)" font-size="9.5" text-anchor="end">3月末</text>
<text transform="translate(444.70,1483.8) rotate(-90)" font-size="9.5" text-anchor="end">4月末</text>
<text transform="translate(471.08,1483.8) rotate(-90)" font-size="9.5" text-anchor="end">5月末</text>
<text transform="translate(497.46,1483.8) rotate(-90)" font-size="9.5" text-anchor="end">6月末</text>
<text transform="translate(523.84,1483.8) rotate(-90)" font-size="9.5" text-anchor="end">7月末</text>
<text transform="translate(550.22,1483.8) rotate(-90)" font-size="9.5" text-anchor="end">8月末</text>
<text transform="translate(576.60,1483.8) rotate(-90)" font-size="9.5" text-anchor="end">9月1日</text>
<text transform="translate(602.98,1483.8) rotate(-90)" font-size="9.5" text-anchor="end">9月2日</text>
<text transform="translate(629.36,1483.8) rotate(-90)" font-size="9.5" text-anchor="end">9月5日</text>
<text x="191" y="1530.2" font-size="9.1" fill="#000" text-anchor="middle" >2021年</text>
<text x="494.5" y="1530.2" font-size="9.1" fill="#000" text-anchor="middle" >2022年</text>
<polyline points="45.69,1308.25 72.07,1269.50 98.45,1292.00 124.83,1237.00 151.21,1210.50 177.59,1163.25 203.97,1245.00 230.35,1313.00 256.73,1396.25 283.11,1420.00 309.49,1440.00 335.88,1398.50 362.26,1333.75 388.64,1354.50 415.02,1307.00 441.40,1341.25 467.78,1354.50 494.16,1393.80 520.54,1412.50 546.92,1443.75 573.30,1452.50 599.68,1454.25 626.06,1447.00" fill="none" stroke="#4A7EBB" stroke-width="2.3" stroke-linejoin="round" stroke-linecap="round"/><path d="M45.69 1304.45L49.49 1308.25L45.69 1312.05L41.89 1308.25Z" fill="#4A7EBB"/><path d="M72.07 1265.70L75.87 1269.50L72.07 1273.30L68.27 1269.50Z" fill="#4A7EBB"/><path d="M98.45 1288.20L102.25 1292.00L98.45 1295.80L94.65 1292.00Z" fill="#4A7EBB"/><path d="M124.83 1233.20L128.63 1237.00L124.83 1240.80L121.03 1237.00Z" fill="#4A7EBB"/><path d="M151.21 1206.70L155.01 1210.50L151.21 1214.30L147.41 1210.50Z" fill="#4A7EBB"/><path d="M177.59 1159.45L181.39 1163.25L177.59 1167.05L173.79 1163.25Z" fill="#4A7EBB"/><path d="M203.97 1241.20L207.77 1245.00L203.97 1248.80L200.17 1245.00Z" fill="#4A7EBB"/><path d="M230.35 1309.20L234.15 1313.00L230.35 1316.80L226.55 1313.00Z" fill="#4A7EBB"/><path d="M256.73 1392.45L260.53 1396.25L256.73 1400.05L252.93 1396.25Z" fill="#4A7EBB"/><path d="M283.11 1416.20L286.91 1420.00L283.11 1423.80L279.31 1420.00Z" fill="#4A7EBB"/><path d="M309.49 1436.20L313.29 1440.00L309.49 1443.80L305.69 1440.00Z" fill="#4A7EBB"/><path d="M335.88 1394.70L339.68 1398.50L335.88 1402.30L332.07 1398.50Z" fill="#4A7EBB"/><path d="M362.26 1329.95L366.06 1333.75L362.26 1337.55L358.46 1333.75Z" fill="#4A7EBB"/><path d="M388.64 1350.70L392.44 1354.50L388.64 1358.30L384.84 1354.50Z" fill="#4A7EBB"/><path d="M415.02 1303.20L418.82 1307.00L415.02 1310.80L411.22 1307.00Z" fill="#4A7EBB"/><path d="M441.40 1337.45L445.20 1341.25L441.40 1345.05L437.60 1341.25Z" fill="#4A7EBB"/><path d="M467.78 1350.70L471.58 1354.50L467.78 1358.30L463.98 1354.50Z" fill="#4A7EBB"/><path d="M494.16 1390.00L497.96 1393.80L494.16 1397.60L490.36 1393.80Z" fill="#4A7EBB"/><path d="M520.54 1408.70L524.34 1412.50L520.54 1416.30L516.74 1412.50Z" fill="#4A7EBB"/><path d="M546.92 1439.95L550.72 1443.75L546.92 1447.55L543.12 1443.75Z" fill="#4A7EBB"/><path d="M573.30 1448.70L577.10 1452.50L573.30 1456.30L569.50 1452.50Z" fill="#4A7EBB"/><path d="M599.68 1450.45L603.48 1454.25L599.68 1458.05L595.88 1454.25Z" fill="#4A7EBB"/><path d="M626.06 1443.20L629.86 1447.00L626.06 1450.80L622.26 1447.00Z" fill="#4A7EBB"/>
<polyline points="45.69,1369.00 72.07,1360.75 98.45,1364.25 124.83,1335.50 151.21,1302.50 177.59,1288.25 203.97,1278.75 230.35,1336.50 256.73,1391.75 283.11,1402.50 309.49,1448.00 335.88,1425.00 362.26,1414.50 388.64,1412.50 415.02,1388.00 441.40,1380.50 467.78,1395.00 494.16,1416.50 520.54,1448.00 546.92,1448.00 573.30,1448.00 599.68,1448.00 626.06,1450.00" fill="none" stroke="#BE4B48" stroke-width="2.3" stroke-linejoin="round" stroke-linecap="round"/><rect x="42.19" y="1365.50" width="7.00" height="7.00" fill="#BE4B48"/><rect x="68.57" y="1357.25" width="7.00" height="7.00" fill="#BE4B48"/><rect x="94.95" y="1360.75" width="7.00" height="7.00" fill="#BE4B48"/><rect x="121.33" y="1332.00" width="7.00" height="7.00" fill="#BE4B48"/><rect x="147.71" y="1299.00" width="7.00" height="7.00" fill="#BE4B48"/><rect x="174.09" y="1284.75" width="7.00" height="7.00" fill="#BE4B48"/><rect x="200.47" y="1275.25" width="7.00" height="7.00" fill="#BE4B48"/><rect x="226.85" y="1333.00" width="7.00" height="7.00" fill="#BE4B48"/><rect x="253.23" y="1388.25" width="7.00" height="7.00" fill="#BE4B48"/><rect x="279.61" y="1399.00" width="7.00" height="7.00" fill="#BE4B48"/><rect x="305.99" y="1444.50" width="7.00" height="7.00" fill="#BE4B48"/><rect x="332.38" y="1421.50" width="7.00" height="7.00" fill="#BE4B48"/><rect x="358.76" y="1411.00" width="7.00" height="7.00" fill="#BE4B48"/><rect x="385.14" y="1409.00" width="7.00" height="7.00" fill="#BE4B48"/><rect x="411.52" y="1384.50" width="7.00" height="7.00" fill="#BE4B48"/><rect x="437.90" y="1377.00" width="7.00" height="7.00" fill="#BE4B48"/><rect x="464.28" y="1391.50" width="7.00" height="7.00" fill="#BE4B48"/><rect x="490.66" y="1413.00" width="7.00" height="7.00" fill="#BE4B48"/><rect x="517.04" y="1444.50" width="7.00" height="7.00" fill="#BE4B48"/><rect x="543.42" y="1444.50" width="7.00" height="7.00" fill="#BE4B48"/><rect x="569.80" y="1444.50" width="7.00" height="7.00" fill="#BE4B48"/><rect x="596.18" y="1444.50" width="7.00" height="7.00" fill="#BE4B48"/><rect x="622.56" y="1446.50" width="7.00" height="7.00" fill="#BE4B48"/>
<polyline points="45.69,1303.75 72.07,1261.25 98.45,1287.00 124.83,1229.25 151.21,1204.25 177.59,1153.50 203.97,1248.00 230.35,1315.00 256.73,1398.00 283.11,1426.25 309.49,1440.50 335.88,1398.00 362.26,1324.50 388.64,1350.00 415.02,1300.00 441.40,1340.75 467.78,1352.50 494.16,1392.50 520.54,1410.00 546.92,1444.50 573.30,1453.75 599.68,1455.50 626.06,1448.00" fill="none" stroke="#98B954" stroke-width="2.3" stroke-linejoin="round" stroke-linecap="round"/><path d="M45.69 1300.15L49.29 1307.35L42.09 1307.35Z" fill="#98B954"/><path d="M72.07 1257.65L75.67 1264.85L68.47 1264.85Z" fill="#98B954"/><path d="M98.45 1283.40L102.05 1290.60L94.85 1290.60Z" fill="#98B954"/><path d="M124.83 1225.65L128.43 1232.85L121.23 1232.85Z" fill="#98B954"/><path d="M151.21 1200.65L154.81 1207.85L147.61 1207.85Z" fill="#98B954"/><path d="M177.59 1149.90L181.19 1157.10L173.99 1157.10Z" fill="#98B954"/><path d="M203.97 1244.40L207.57 1251.60L200.37 1251.60Z" fill="#98B954"/><path d="M230.35 1311.40L233.95 1318.60L226.75 1318.60Z" fill="#98B954"/><path d="M256.73 1394.40L260.33 1401.60L253.13 1401.60Z" fill="#98B954"/><path d="M283.11 1422.65L286.71 1429.85L279.51 1429.85Z" fill="#98B954"/><path d="M309.49 1436.90L313.09 1444.10L305.89 1444.10Z" fill="#98B954"/><path d="M335.88 1394.40L339.48 1401.60L332.27 1401.60Z" fill="#98B954"/><path d="M362.26 1320.90L365.86 1328.10L358.66 1328.10Z" fill="#98B954"/><path d="M388.64 1346.40L392.24 1353.60L385.04 1353.60Z" fill="#98B954"/><path d="M415.02 1296.40L418.62 1303.60L411.42 1303.60Z" fill="#98B954"/><path d="M441.40 1337.15L445.00 1344.35L437.80 1344.35Z" fill="#98B954"/><path d="M467.78 1348.90L471.38 1356.10L464.18 1356.10Z" fill="#98B954"/><path d="M494.16 1388.90L497.76 1396.10L490.56 1396.10Z" fill="#98B954"/><path d="M520.54 1406.40L524.14 1413.60L516.94 1413.60Z" fill="#98B954"/><path d="M546.92 1440.90L550.52 1448.10L543.32 1448.10Z" fill="#98B954"/><path d="M573.30 1450.15L576.90 1457.35L569.70 1457.35Z" fill="#98B954"/><path d="M599.68 1451.90L603.28 1459.10L596.08 1459.10Z" fill="#98B954"/><path d="M626.06 1444.40L629.66 1451.60L622.46 1451.60Z" fill="#98B954"/>
<text x="32.5" y="1281" font-size="8.6" fill="#8AA84A" text-anchor="start" >578.71</text>
<text x="85" y="1265" font-size="8.6" fill="#8AA84A" text-anchor="start" >605.73</text>
<text x="187" y="1156.2" font-size="8.6" fill="#8AA84A" text-anchor="start" >805.44</text>
<text x="295" y="1405.5" font-size="8.6" fill="#8AA84A" text-anchor="start" >375.63</text>
<text x="334.3" y="1309.8" font-size="8.6" fill="#8AA84A" text-anchor="start" >548.68</text>
<text x="430" y="1328" font-size="8.6" fill="#8AA84A" text-anchor="start" >526.35</text>
<text x="485.5" y="1379.8" font-size="8.6" fill="#8AA84A" text-anchor="start" >447.07</text>
<text x="610.5" y="1418.5" font-size="8.6" fill="#8AA84A" text-anchor="start" >364.91</text>
<text x="42.5" y="1330.5" font-size="8.6" fill="#1878CC" text-anchor="start" >562.45</text>
<text x="96" y="1309" font-size="8.6" fill="#1878CC" text-anchor="start" >586.23</text>
<text x="187.5" y="1166.2" font-size="8.6" fill="#1878CC" text-anchor="start" >771.62</text>
<text x="296" y="1411" font-size="8.6" fill="#1878CC" text-anchor="start" >373.59</text>
<text x="353.8" y="1361.2" font-size="8.6" fill="#1878CC" text-anchor="start" >526.67</text>
<text x="425" y="1361" font-size="8.6" fill="#1878CC" text-anchor="start" >515.64</text>
<text x="481.3" y="1408" font-size="8.6" fill="#1878CC" text-anchor="start" >440.88</text>
<text x="605.5" y="1434.8" font-size="8.6" fill="#1878CC" text-anchor="start" >363.90</text>
<text x="40.8" y="1388" font-size="8.6" fill="#D2222E" text-anchor="start" >476.42</text>
<text x="86.8" y="1383" font-size="8.6" fill="#D2222E" text-anchor="start" >483.25</text>
<text x="168" y="1311.8" font-size="8.6" fill="#D2222E" text-anchor="start" >592.71</text>
<text x="313" y="1451.8" font-size="8.6" fill="#D2222E" text-anchor="start" >362.84</text>
<text x="352.5" y="1437.5" font-size="8.6" fill="#D2222E" text-anchor="start" >410.20</text>
<text x="425" y="1394.2" font-size="8.6" fill="#D2222E" text-anchor="start" >458.95</text>
<text x="466.8" y="1437.2" font-size="8.6" fill="#D2222E" text-anchor="start" >408.17</text>
<text x="609.5" y="1466.8" font-size="8.6" fill="#D2222E" text-anchor="start" >358.61</text>
</svg>
</body></html>
